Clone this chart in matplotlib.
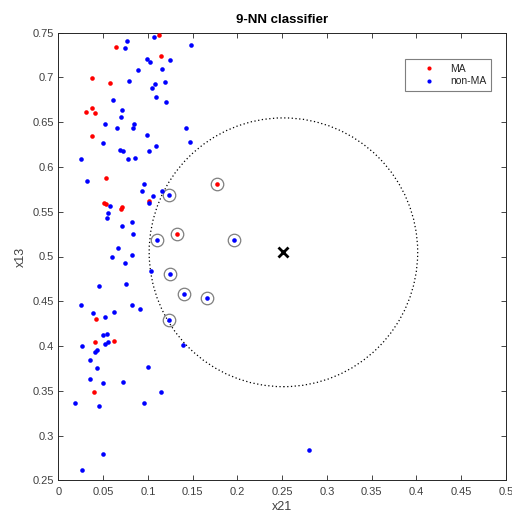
import matplotlib
matplotlib.use("Agg")
import matplotlib.pyplot as plt
from matplotlib.patches import Circle
from matplotlib.lines import Line2D

plt.rcParams['font.family'] = ['Liberation Sans', 'DejaVu Sans']

# MA points (red)
ma_x = [0.1126, 0.0648, 0.1145, 0.0373, 0.0578, 0.0373, 0.0310, 0.0407, 0.0373,
        0.0537, 0.1014, 0.0512, 0.0535, 0.0712, 0.0698, 0.1324, 0.1774, 0.0425,
        0.0414, 0.0626, 0.0396]
ma_y = [0.7469, 0.7335, 0.7238, 0.6996, 0.6933, 0.6661, 0.6616, 0.6605, 0.6345,
        0.5876, 0.5623, 0.5602, 0.5590, 0.5549, 0.5530, 0.5248, 0.5806, 0.4302,
        0.4049, 0.4060, 0.3491]

# non-MA points (blue)
non_x = [0.0771, 0.1073, 0.0749, 0.1480, 0.0992, 0.1025, 0.1245, 0.0891, 0.1163,
         0.0790, 0.1084, 0.1196, 0.1051, 0.1092, 0.1207, 0.0608, 0.0709, 0.0701,
         0.0525, 0.0656, 0.0850, 0.0838, 0.0992, 0.1431, 0.0496, 0.1472, 0.0690,
         0.0727, 0.1014, 0.1095, 0.0257, 0.0779, 0.0854, 0.0324, 0.0961, 0.0932,
         0.1156, 0.1062, 0.1237, 0.1014, 0.0578, 0.0559, 0.0548, 0.0709, 0.0820,
         0.0838, 0.1107, 0.1961, 0.0667, 0.0604, 0.0820, 0.0749, 0.1036, 0.1249,
         0.0452, 0.0757, 0.1408, 0.1662, 0.0254, 0.0820, 0.0913, 0.1237, 0.0391,
         0.0525, 0.0626, 0.0496, 0.0548, 0.0559, 0.0525, 0.0262, 0.0433, 0.0414,
         0.1397, 0.0351, 0.0436, 0.1003, 0.0351, 0.0503, 0.0720, 0.1151, 0.0190,
         0.0455, 0.0961, 0.0496, 0.0262, 0.2802]
non_y = [0.7408, 0.7446, 0.7327, 0.7357, 0.7208, 0.7174, 0.7196, 0.7085, 0.7096,
         0.6962, 0.6922, 0.6944, 0.6881, 0.6780, 0.6728, 0.6750, 0.6638, 0.6557,
         0.6475, 0.6434, 0.6475, 0.6434, 0.6356, 0.6434, 0.6263, 0.6275, 0.6189,
         0.6177, 0.6181, 0.6230, 0.6088, 0.6088, 0.6099, 0.5846, 0.5812, 0.5732,
         0.5734, 0.5673, 0.5683, 0.5600, 0.5560, 0.5482, 0.5430, 0.5337, 0.5388,
         0.5248, 0.5184, 0.5187, 0.5092, 0.4991, 0.5013, 0.4931, 0.4842, 0.4810,
         0.4674, 0.4690, 0.4576, 0.4539, 0.4455, 0.4455, 0.4414, 0.4295, 0.4366,
         0.4325, 0.4384, 0.4121, 0.4132, 0.4049, 0.4023, 0.3998, 0.3956, 0.3931,
         0.4009, 0.3845, 0.3756, 0.3767, 0.3633, 0.3585, 0.3596, 0.3491, 0.3368,
         0.3328, 0.3368, 0.2792, 0.2620, 0.2840]

# 9 nearest neighbours (circled)
nn_x = [0.1237, 0.1774, 0.1324, 0.1107, 0.1961, 0.1249, 0.1408, 0.1662, 0.1237]
nn_y = [0.5683, 0.5806, 0.5248, 0.5184, 0.5187, 0.4810, 0.4576, 0.4539, 0.4295]

# query point and radius
query_x, query_y = 0.2515, 0.5047
radius = 0.15

x_ticks = [0, 0.05, 0.1, 0.15, 0.2, 0.25, 0.3, 0.35, 0.4, 0.45, 0.5]
x_tick_labels = ['0', '0.05', '0.1', '0.15', '0.2', '0.25', '0.3', '0.35', '0.4', '0.45', '0.5']
y_ticks = [0.25, 0.3, 0.35, 0.4, 0.45, 0.5, 0.55, 0.6, 0.65, 0.7, 0.75]
y_tick_labels = ['0.25', '0.3', '0.35', '0.4', '0.45', '0.5', '0.55', '0.6', '0.65', '0.7', '0.75']

fig = plt.figure(figsize=(5.12, 5.13), dpi=100)
ax = fig.add_axes([0.1139, 0.0634, 0.8741, 0.8732])

dark = '#262626'
label_col = '#404040'
ax.plot(ma_x, ma_y, 'o', color='red', markersize=3.3, markeredgewidth=0, label='MA', zorder=3)
ax.plot(non_x, non_y, 'o', color='blue', markersize=3.3, markeredgewidth=0, label='non-MA', zorder=3)
ax.plot(nn_x, nn_y, 'o', markerfacecolor='none', markeredgecolor='#7f7f7f',
        markersize=9, markeredgewidth=0.9, zorder=2)
ax.add_patch(Circle((query_x, query_y), radius, fill=False, linestyle=(0, (1, 2)),
                    edgecolor='black', linewidth=0.9, zorder=1))
ax.plot([query_x], [query_y], 'x', color='black', markersize=7, markeredgewidth=2, zorder=4)

ax.set_xlim(0, 0.5)
ax.set_ylim(0.25, 0.75)
ax.set_xticks(x_ticks)
ax.set_xticklabels(x_tick_labels)
ax.set_yticks(y_ticks)
ax.set_yticklabels(y_tick_labels)
ax.tick_params(direction='in', top=True, right=True, length=3.5, width=0.6,
               labelsize=8, color=dark, labelcolor=label_col)
ax.tick_params(axis='x', pad=4.5)
ax.tick_params(axis='y', pad=3)
for s in ax.spines.values():
    s.set_color(dark)
    s.set_linewidth(0.7)

ax.set_xlabel('x21', fontsize=9, color=label_col, labelpad=3)
ax.set_ylabel('x13', fontsize=9, color=label_col, labelpad=4)
ax.set_title('9-NN classifier', fontsize=9.5, fontweight='bold', color='black', pad=7)

handles = [Line2D([], [], marker='o', linestyle='none', color='red', markersize=3, markeredgewidth=0),
           Line2D([], [], marker='o', linestyle='none', color='blue', markersize=3, markeredgewidth=0)]
leg = ax.legend(handles, ['MA', 'non-MA'], loc='upper right', bbox_to_anchor=(0.967, 0.941),
                borderaxespad=0, fontsize=7.5, fancybox=False, edgecolor='#7f7f7f',
                framealpha=1, handlelength=3.8, handletextpad=0.1, borderpad=0.45,
                labelspacing=0.25)
leg.get_frame().set_linewidth(0.8)
for t in leg.get_texts():
    t.set_color(dark)

fig.savefig('out.png', dpi=100)
